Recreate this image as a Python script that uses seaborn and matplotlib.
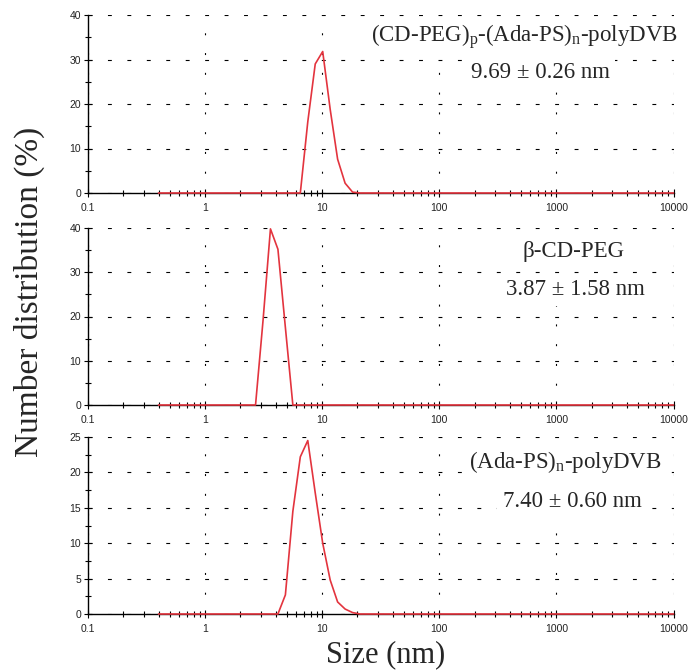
import numpy as np
import pandas as pd
import matplotlib
matplotlib.use("Agg")
import matplotlib.pyplot as plt
from matplotlib.ticker import MultipleLocator, LogLocator, NullFormatter
import seaborn as sns

# Number-weighted DLS size distributions (size in nm, number in %)
sizes_conj = [0.4, 6.503, 7.531, 8.721, 10.1, 11.7, 13.54, 15.69, 18.17, 21.04, 10000]
number_conj = [0, 0, 16.0, 29.0, 31.8, 18.8, 7.6, 2.2, 0.2, 0, 0]

sizes_cdpeg = [0.4, 2.696, 3.122, 3.615, 4.187, 4.849, 5.615, 10000]
number_cdpeg = [0, 0, 19.0, 39.8, 35.2, 17.5, 0, 0]

sizes_adaps = [0.4, 4.187, 4.849, 5.615, 6.503, 7.531, 8.721, 10.1, 11.7, 13.54,
               15.69, 18.17, 21.04, 10000]
number_adaps = [0, 0, 2.7, 14.5, 22.2, 24.5, 17.1, 10.0, 4.8, 1.7, 0.7, 0.2, 0, 0]

sample_names = ["conj", "cdpeg", "adaps"]
sample_titles = [r"(CD-PEG)$_\mathrm{p}$-(Ada-PS)$_\mathrm{n}$-polyDVB",
                 "β-CD-PEG",
                 r"(Ada-PS)$_\mathrm{n}$-polyDVB"]
sample_sizes_text = ["9.69 ± 0.26 nm", "3.87 ± 1.58 nm", "7.40 ± 0.60 nm"]
y_max = [40, 40, 25]
y_major = [10, 10, 5]
y_minor = [5, 5, 2.5]
x_ticks = [0.1, 1, 10, 100, 1000, 10000]
x_ticklabels = ["0.1", "1", "10", "100", "1000", "10000"]

frames = []
for name, s, n in [("conj", sizes_conj, number_conj),
                   ("cdpeg", sizes_cdpeg, number_cdpeg),
                   ("adaps", sizes_adaps, number_adaps)]:
    frames.append(pd.DataFrame({"sample": name, "size": s, "number": n}))
df = pd.concat(frames, ignore_index=True)

sns.set_theme(style="white")
plt.rcParams["font.family"] = ["Liberation Sans", "DejaVu Sans"]
plt.rcParams["mathtext.fontset"] = "custom"
plt.rcParams["mathtext.rm"] = "Liberation Serif"
plt.rcParams["mathtext.it"] = "Liberation Serif:italic"

fig = plt.figure(figsize=(6.89, 6.72), dpi=100)
left, width = 88 / 689, 585.5 / 689
rects = [(left, 1 - 193 / 672, width, 178 / 672),
         (left, 1 - 405 / 672, width, 177 / 672),
         (left, 1 - 614 / 672, width, 177 / 672)]
text_pos = [((0.745, 0.848), (0.772, 0.646)),
            ((0.829, 0.836), (0.833, 0.621)),
            ((0.816, 0.825), (0.827, 0.605))]

line_color = "#e3343e"
serif = ["Liberation Serif", "DejaVu Serif"]

for i, name in enumerate(sample_names):
    ax = fig.add_axes(rects[i])
    sub = df[df["sample"] == name]
    sns.lineplot(data=sub, x="size", y="number", ax=ax, color=line_color,
                 linewidth=1.2, estimator=None, sort=False, legend=False,
                 clip_on=False, zorder=4)
    ax.set_xscale("log")
    ax.set_xlim(0.1, 10000)
    ax.set_ylim(0, y_max[i])
    ax.set_xticks(x_ticks, x_ticklabels)
    ax.xaxis.set_minor_locator(LogLocator(base=10, subs=np.arange(2, 10), numticks=20))
    ax.xaxis.set_minor_formatter(NullFormatter())
    ax.yaxis.set_major_locator(MultipleLocator(y_major[i]))
    ax.yaxis.set_minor_locator(MultipleLocator(y_minor[i]))
    ax.set_xlabel("")
    ax.set_ylabel("")

    for side in ["top", "right"]:
        ax.spines[side].set_visible(False)
    for side in ["left", "bottom"]:
        ax.spines[side].set_color("black")
        ax.spines[side].set_linewidth(1.0)
        ax.spines[side].set_zorder(3)

    ax.tick_params(axis="both", which="major", direction="inout", length=6,
                   width=0.8, color="black", labelsize=7.5, labelcolor="#222222")
    ax.tick_params(axis="both", which="minor", direction="inout", length=5,
                   width=0.8, color="black")
    ax.tick_params(axis="x", which="major", pad=4)
    ax.tick_params(axis="y", which="major", pad=2)
    ax.tick_params(bottom=True, left=True, which="both")

    ax.grid(False)
    ax.grid(True, axis="y", which="major", color="black", linewidth=0.8,
            linestyle=(0, (3.5, 14)))
    ax.grid(True, axis="x", which="major", color="black", linewidth=0.8,
            linestyle=(0, (1.8, 16)))
    ax.set_axisbelow(True)

    box = dict(facecolor="white", edgecolor="none", pad=4)
    (x1, y1), (x2, y2) = text_pos[i]
    ax.text(x1, y1, sample_titles[i], transform=ax.transAxes, ha="center",
            va="baseline", fontsize=16.5, family=serif, bbox=box, zorder=5)
    ax.text(x2, y2, sample_sizes_text[i], transform=ax.transAxes, ha="center",
            va="baseline", fontsize=16.5, family=serif, bbox=box, zorder=5)

fig.text(0.042, 0.5655, "Number distribution (%)", rotation=90, ha="center",
         va="center", fontsize=24, family=serif)
fig.text(0.559, 10 / 672, "Size (nm)", ha="center", va="baseline",
         fontsize=22, family=serif)

fig.savefig("out.png", dpi=100, facecolor="white")
